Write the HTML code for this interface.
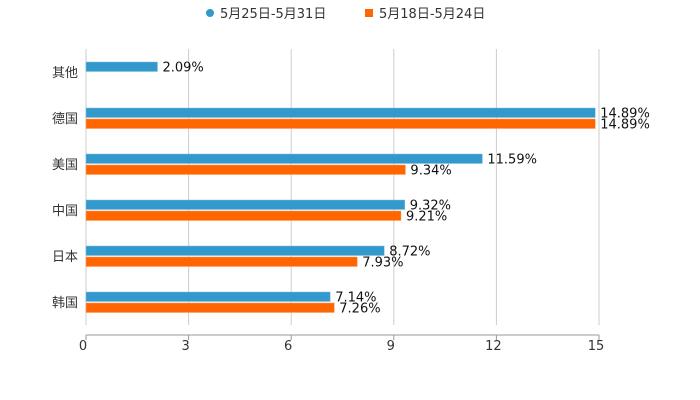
<!DOCTYPE html>
<html><head><meta charset="utf-8"><style>
body{margin:0;background:#fff}
svg{display:block;font-family:"DejaVu Sans","Noto Sans CJK SC",sans-serif}
</style></head><body>
<svg id="c" width="700" height="400"></svg>
<script>
const categories=["其他","德国","美国","中国","日本","韩国"];
const seriesA=[2.09,14.89,11.59,9.32,8.72,7.14];
const seriesB=[null,14.89,9.34,9.21,7.93,7.26];
const ticks=[0,3,6,9,12,15];
const NS="http://www.w3.org/2000/svg";
const svg=document.getElementById("c");
const x=v=>86+v*34.2;
const yc=i=>72+46*i;
function mk(t,a,p){const e=document.createElementNS(NS,t);for(const k in a)e.setAttribute(k,a[k]);(p||svg).appendChild(e);return e;}
ticks.forEach(t=>{
  if(t>0){const g=mk("line",{x1:x(t),x2:x(t),y1:49,y2:325,stroke:"#ccc","stroke-width":1});
  
  }
  const tk=mk("line",{x1:x(t),x2:x(t),y1:335,y2:340,stroke:"#999"});
  
  
  const l=mk("text",{x:x(t)-3,y:350,"text-anchor":"middle","font-size":13,fill:"#333"});
  l.textContent=t;
  
  
});
const ax=mk("line",{x1:86,x2:86,y1:49,y2:325,stroke:"#ccc"});


const bx=mk("line",{x1:86,x2:x(15),y1:335,y2:335,stroke:"#999"});


categories.forEach((c,i)=>{
  const t=mk("text",{x:78,y:yc(i)+5,"text-anchor":"end","font-size":13,fill:"#333"});
  t.textContent=c;
  
  
  const a=seriesA[i];
  if(a!=null){
    const r=mk("rect",{x:86,y:yc(i)-10,width:x(a)-86,height:9.5,fill:"#3399cc",stroke:"#7fc0e0","stroke-width":0.5});
    
    
    const v=mk("text",{x:x(a)+5,y:yc(i)-0.5,"font-size":13,fill:"#111"});
    v.textContent=a.toFixed(2)+"%";
    
    
  }
  const b=seriesB[i];
  if(b!=null){
    const r=mk("rect",{x:86,y:yc(i)+1,width:x(b)-86,height:9.5,fill:"#ff6600",stroke:"#ff9a5a","stroke-width":0.5});
    
    
    const v=mk("text",{x:x(b)+5,y:yc(i)+10.5,"font-size":13,fill:"#111"});
    v.textContent=b.toFixed(2)+"%";
    
    
  }
});
const d1=mk("circle",{cx:210,cy:13,r:4,fill:"#3399cc"});


const l1=mk("text",{x:220,y:18,"font-size":13,fill:"#333"});
l1.textContent="5月25日-5月31日";


const d2=mk("rect",{x:365,y:9,width:8,height:8,fill:"#ff6600"});


const l2=mk("text",{x:379,y:18,"font-size":13,fill:"#333"});
l2.textContent="5月18日-5月24日";


</script>
</body></html>
